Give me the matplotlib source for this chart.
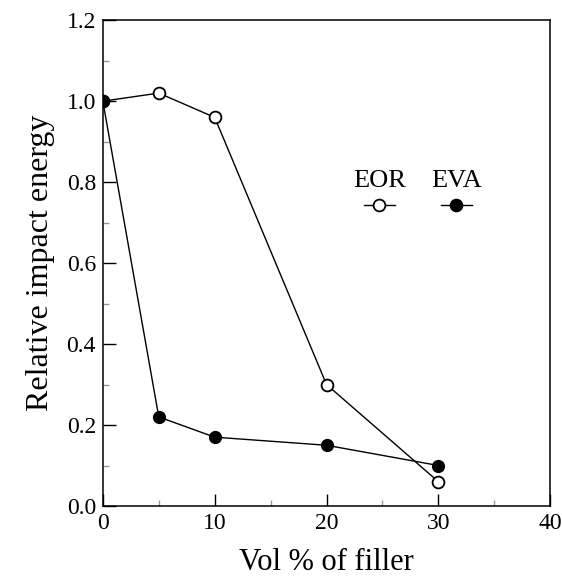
import matplotlib.pyplot as plt
from matplotlib.ticker import MultipleLocator
from matplotlib.lines import Line2D

plt.rcParams['font.family'] = ['Liberation Serif', 'DejaVu Serif']

vol = [0, 5, 10, 20, 30]
eor = [1.0, 1.02, 0.96, 0.30, 0.06]
eva = [1.0, 0.22, 0.17, 0.15, 0.10]
series_names = ['EOR', 'EVA']

fig = plt.figure(figsize=(5.62, 5.78), dpi=100)
ax = fig.add_axes([0.183, 0.1246, 0.796, 0.8404])

# open circles for EOR, filled for EVA
ax.plot(vol, eor, '-', color='black', lw=1, marker='o', ms=8.5,
        mfc='white', mec='black', mew=1.3, zorder=3)
ax.plot(vol, eva, '-', color='black', lw=1, marker='o', ms=8.5,
        mfc='black', mec='black', zorder=4)

ax.set_xlim(0, 40)
ax.set_ylim(0, 1.2)
ax.xaxis.set_major_locator(MultipleLocator(10))
ax.xaxis.set_minor_locator(MultipleLocator(5))
ax.yaxis.set_major_locator(MultipleLocator(0.2))
ax.yaxis.set_minor_locator(MultipleLocator(0.1))
ax.yaxis.set_major_formatter(plt.FormatStrFormatter('%.1f'))
ax.tick_params(which='both', direction='in', top=False, right=False,
               labelsize=17, width=1)
ax.tick_params(which='major', length=9, pad=5)
ax.tick_params(which='minor', length=4, color='0.6')
for s in ax.spines.values():
    s.set_linewidth(1.1)

ax.set_xlabel('Vol % of filler', fontsize=22, labelpad=10)
ax.set_ylabel('Relative impact energy', fontsize=23, labelpad=8)

# legend drawn by hand: labels above the marker samples
leg_x = [0.618, 0.79]
fills = ['white', 'black']
for lx, name, fc in zip(leg_x, series_names, fills):
    ax.text(lx, 0.67, name, transform=ax.transAxes, ha='center',
            va='center', fontsize=19)
    ax.add_line(Line2D([lx - 0.035, lx + 0.035], [0.62, 0.62],
                       transform=ax.transAxes, color='black', lw=1))
    ax.add_line(Line2D([lx], [0.62], transform=ax.transAxes, marker='o',
                       ms=8.5, mfc=fc, mec='black', mew=1.3, lw=0))

fig.savefig('out.png', dpi=100)
